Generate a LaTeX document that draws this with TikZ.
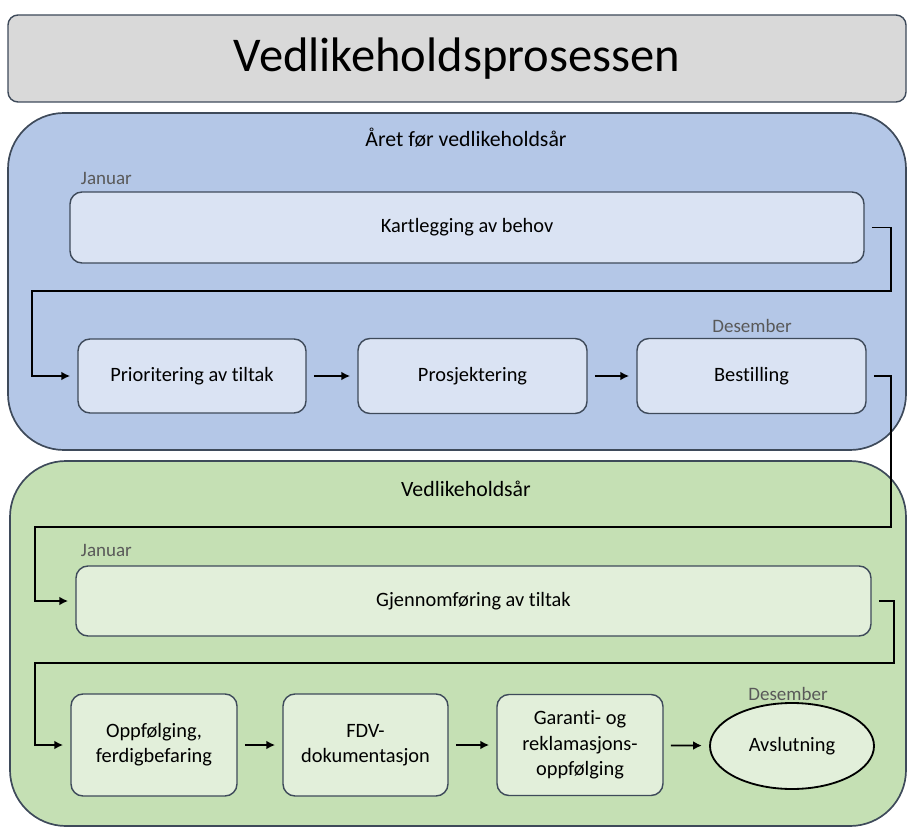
\documentclass[tikz,border=0pt]{standalone}
\usepackage{fontspec}
\setmainfont{Carlito}[Ligatures=NoCommon]
\usetikzlibrary{arrows.meta,shapes.geometric}
\definecolor{edge}{HTML}{3E4A5A}
\definecolor{titlegray}{HTML}{D9D9D9}
\definecolor{bluepanel}{HTML}{B4C7E7}
\definecolor{bluebox}{HTML}{DAE3F3}
\definecolor{greenpanel}{HTML}{C5E0B4}
\definecolor{greenbox}{HTML}{E2EFDA}
\definecolor{monthgray}{HTML}{595959}
\tikzset{
  stepbox/.style={draw=edge, line width=1pt, rounded corners=0.3cm, align=center,
    font=\fontsize{14.5}{18}\selectfont},
  flow/.style={-{Latex[length=2.2mm,width=2.2mm]}, line width=1.2pt,
    shorten >=0.18cm, shorten <=0.18cm},
  monthlabel/.style={text=monthgray, font=\fontsize{13.5}{16}\selectfont},
  header/.style={font=\fontsize{15.5}{18}\selectfont}
}
\begin{document}
\begin{tikzpicture}[x=0.025cm,y=-0.025cm]
\useasboundingbox (0,0) rectangle (908,828);
\def\u{0.025cm}

\node[stepbox, fill=titlegray, minimum width=898*\u, minimum height=87*\u,
  rounded corners=0.25cm, font=\fontsize{34.5}{40}\selectfont] (title) at (457,58.5) {Vedlikeholdsprosessen};

\filldraw[draw=edge, fill=bluepanel, line width=1.2pt, rounded corners=1.4cm] (8,113) rectangle (906,450);
\filldraw[draw=edge, fill=greenpanel, line width=1.2pt, rounded corners=1.4cm] (10,461) rectangle (906,826);

\node[header] (blue) at (466,138) {Året før vedlikeholdsår};
\node[header] (green) at (466,489) {Vedlikeholdsår};

\node[monthlabel, anchor=west] (jan1) at (76,178) {Januar};
\node[monthlabel] (des1) at (752,326) {Desember};
\node[monthlabel, anchor=west] (jan2) at (76,550) {Januar};
\node[monthlabel] (des2) at (788,694) {Desember};

\node[stepbox, fill=bluebox, minimum width=794*\u, minimum height=71*\u] (kart) at (467,227.5) {Kartlegging av behov};
\node[stepbox, fill=bluebox, minimum width=228*\u, minimum height=74*\u] (prio) at (192,376) {Prioritering av tiltak};
\node[stepbox, fill=bluebox, minimum width=229*\u, minimum height=75*\u] (pros) at (472.5,376) {Prosjektering};
\node[stepbox, fill=bluebox, minimum width=229*\u, minimum height=75*\u] (best) at (751.5,376) {Bestilling};

\node[stepbox, fill=greenbox, minimum width=795*\u, minimum height=70*\u] (gjen) at (473.5,601) {Gjennomføring av tiltak};
\node[stepbox, fill=greenbox, minimum width=166*\u, minimum height=102*\u] (oppf) at (154,745) {Oppfølging,\\ferdigbefaring};
\node[stepbox, fill=greenbox, minimum width=165*\u, minimum height=102*\u] (fdv) at (365.5,745) {FDV-\\dokumentasjon};
\node[stepbox, fill=greenbox, minimum width=166*\u, minimum height=101*\u] (gar) at (580,745) {Garanti- og\\reklamasjons-\\oppfølging};
\node[stepbox, ellipse, draw=black, fill=greenbox, line width=1.3pt, inner sep=0pt,
  minimum width=164*\u, minimum height=86*\u] (avs) at (792,746) {Avslutning};

\draw[flow] (kart.east) -- ++(26,0) |- (32,291) |- (prio.west);
\draw[flow] (best.east) -- ++(24,0) |- (35,527) |- (gjen.west);
\draw[flow] (gjen.east) -- ++(22,0) |- (35,663) |- (oppf.west);
\foreach \a/\b in {prio/pros,pros/best,oppf/fdv,fdv/gar,gar/avs}
  \draw[flow] (\a) -- (\b);
\end{tikzpicture}
\end{document}
